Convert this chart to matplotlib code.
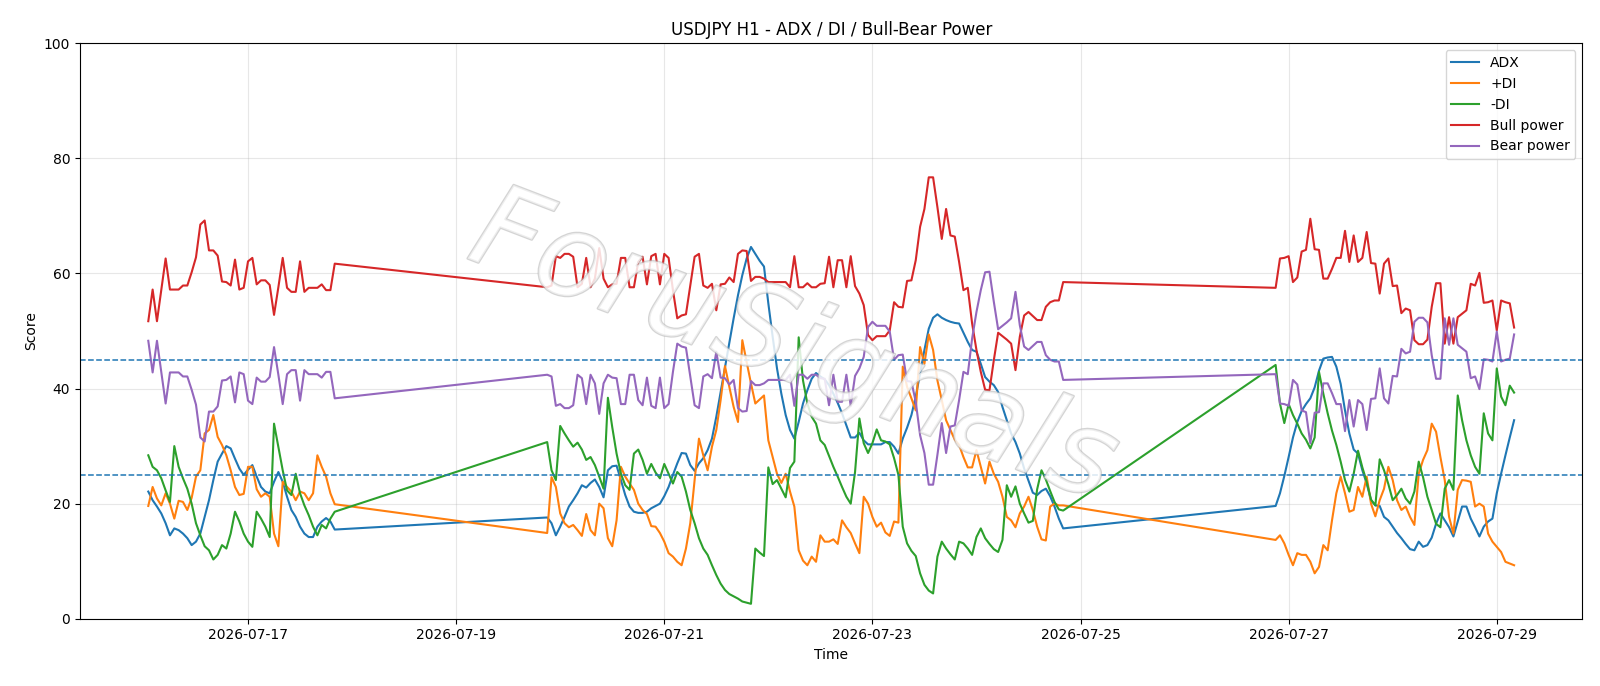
import matplotlib
matplotlib.use("Agg")
import matplotlib.pyplot as plt
import matplotlib.dates as mdates
import matplotlib.patheffects as pe
import pandas as pd

# hourly bars, three trading blocks (weekends missing)
seg1 = pd.date_range("2026-07-16 01:00", "2026-07-17 20:00", freq="h")
seg2 = pd.date_range("2026-07-19 21:00", "2026-07-24 20:00", freq="h")
seg3 = pd.date_range("2026-07-26 21:00", "2026-07-29 04:00", freq="h")
times = seg1.append(seg2).append(seg3)

adx = [
    22.1, 20.6, 19.5, 18.3, 16.6, 14.5, 15.7, 15.4, 14.8, 14.0, 12.8, 13.4, 14.8, 17.7, 20.6, 24.1, 27.3, 28.7, 30.0, 29.6,
    27.8, 26.1, 25.0, 25.9, 26.7, 24.7, 22.9, 22.1, 21.8, 23.8, 25.5, 23.8, 21.2, 18.9, 17.7, 16.0, 14.8, 14.2, 14.2, 16.0,
    16.9, 17.5, 16.9, 15.5,
    17.6, 16.6, 14.5, 16.0, 17.7, 19.5, 20.6, 21.8, 23.2, 22.8, 23.6, 24.2, 22.9, 21.1, 25.8, 26.5, 26.6, 24.1, 21.5, 19.5,
    18.6, 18.4, 18.4, 18.6, 19.2, 19.6, 20.0, 21.3, 22.9, 25.0, 27.0, 28.8, 28.7, 26.7, 25.7, 27.0, 27.9, 29.3, 31.3, 35.1,
    39.4, 43.8, 48.1, 52.2, 56.2, 59.7, 62.6, 64.6, 63.4, 62.2, 61.2, 54.8, 49.0, 43.5, 39.1, 35.4, 32.8, 31.3, 34.2, 37.4,
    39.7, 41.7, 42.7, 42.1, 41.6, 40.6, 39.1, 37.5, 35.7, 33.6, 31.5, 31.5, 32.3, 31.0, 30.3, 30.3, 30.3, 30.3, 30.7,
    30.7, 29.9, 28.7, 31.3, 33.2, 35.4, 38.6, 42.6, 46.7, 50.4, 52.3, 52.9, 52.3, 51.9, 51.6, 51.4, 51.3, 49.7, 48.1, 46.7,
    46.4, 44.3, 42.0, 41.2, 40.6, 39.4, 36.8, 34.5, 32.2, 30.7, 28.7, 26.1, 24.0, 21.9, 21.5, 22.2, 22.6, 21.3, 19.5, 17.4,
    15.7,
    19.6, 21.8, 24.8, 28.1, 31.5, 34.2, 36.1, 37.3, 38.3, 40.2, 43.1, 45.2, 45.4, 45.5, 43.8, 40.8, 36.2, 32.2, 29.4, 28.7,
    25.8, 23.5, 20.6, 19.7, 19.6, 17.7, 17.1, 16.0, 14.9, 14.0, 13.0, 12.1, 11.9, 13.4, 12.5, 12.8, 14.1, 16.5, 18.3, 17.1,
    15.9, 14.3, 16.9, 19.5, 19.5, 17.4, 15.9, 14.3, 16.0, 16.9, 17.4, 21.8, 25.2, 28.4, 31.5, 34.5,
]
plus_di = [
    19.6, 22.9, 20.9, 19.7, 21.8, 20.0, 17.4, 20.5, 20.3, 18.9, 21.0, 24.7, 25.8, 32.2, 32.8, 35.4, 31.6, 30.2, 28.4, 25.8,
    22.9, 21.5, 21.7, 26.4, 26.4, 22.5, 21.2, 21.8, 21.2, 14.8, 12.6, 23.8, 22.9, 22.1, 20.6, 22.1, 21.8, 20.6, 21.8, 28.4,
    26.4, 24.7, 21.8, 19.9,
    14.9, 24.6, 22.9, 18.3, 16.6, 15.9, 16.3, 15.4, 14.4, 18.2, 15.4, 14.5, 20.0, 19.2, 14.0, 12.6, 17.1, 26.4, 24.7, 23.5,
    22.4, 20.0, 18.9, 18.2, 16.1, 16.0, 14.9, 13.4, 11.4, 10.8, 9.9, 9.3, 12.2, 16.6, 24.1, 31.3, 28.4, 25.8, 29.9, 32.8,
    38.0, 43.9, 40.3, 36.8, 34.2, 48.4, 44.6, 40.9, 37.4, 38.1, 38.8, 31.0, 28.1, 25.2, 23.6, 25.2, 22.1, 19.5, 11.9, 10.1,
    9.3, 10.8, 9.9, 14.5, 13.4, 13.4, 13.8, 13.0, 17.1, 15.9, 14.9, 13.1, 11.4, 21.2, 20.0, 17.7, 16.0, 16.7, 15.0,
    14.4, 16.9, 16.7, 43.8, 40.3, 38.3, 36.2, 47.2, 44.3, 49.4, 46.7, 41.4, 38.0, 34.5, 32.8, 31.1, 30.2, 28.1, 26.3, 26.3,
    29.3, 26.4, 23.5, 27.3, 25.2, 23.8, 21.2, 17.7, 17.1, 15.9, 18.3, 19.5, 21.2, 18.9, 16.0, 13.8, 13.6, 19.5, 20.0, 19.7,
    19.7,
    13.7, 14.5, 13.1, 11.1, 9.3, 11.4, 11.1, 11.1, 9.9, 7.9, 9.0, 12.8, 11.9, 17.1, 21.8, 24.7, 21.8, 18.6, 18.9, 22.9,
    21.2, 24.7, 20.0, 17.8, 20.6, 22.6, 26.4, 24.1, 20.6, 18.9, 19.5, 17.7, 16.3, 25.2, 27.6, 29.3, 33.9, 32.5, 28.1, 24.1,
    17.7, 14.8, 22.4, 24.1, 24.0, 23.8, 19.5, 20.0, 19.5, 14.8, 13.4, 12.5, 11.6, 9.9, 9.6, 9.3,
]
minus_di = [
    28.4, 26.4, 25.8, 24.4, 22.3, 20.3, 30.0, 26.4, 24.4, 22.6, 20.0, 16.6, 14.5, 12.6, 11.9, 10.3, 11.1, 12.8, 12.2, 14.8,
    18.6, 16.9, 14.8, 13.4, 12.5, 18.6, 17.4, 16.0, 14.2, 33.9, 29.9, 25.8, 22.3, 21.5, 25.2, 21.8, 19.7, 18.0, 16.0, 14.5,
    16.3, 15.7, 17.4, 18.6,
    30.7, 25.8, 24.1, 33.5, 32.2, 31.0, 29.9, 30.6, 29.4, 27.6, 28.1, 26.7, 24.7, 22.6, 38.4, 33.3, 28.7, 25.2, 23.2, 22.4,
    28.7, 29.4, 27.6, 25.2, 26.9, 25.4, 24.4, 26.9, 25.2, 23.5, 25.5, 24.7, 22.1, 18.9, 16.6, 14.0, 12.2, 11.1, 9.3, 7.6,
    6.1, 5.0, 4.3, 3.9, 3.5, 3.0, 2.8, 2.6, 12.2, 11.5, 10.9, 26.3, 23.4, 24.1, 22.6, 21.1, 26.2, 27.3, 48.9, 41.4,
    37.4, 35.1, 33.9, 31.0, 30.2, 28.3, 26.4, 24.7, 22.9, 21.2, 20.0, 25.5, 34.8, 30.5, 28.8, 30.5, 32.9, 31.0, 30.8,
    30.3, 27.9, 25.0, 16.0, 13.1, 11.8, 10.9, 7.9, 5.9, 4.9, 4.4, 10.8, 13.4, 12.2, 11.2, 10.3, 13.4, 13.1, 12.2, 11.1,
    14.2, 15.7, 14.0, 13.0, 12.1, 11.6, 13.7, 23.2, 21.2, 23.0, 20.0, 18.3, 16.7, 17.0, 22.5, 25.8, 24.2, 22.2, 20.3, 19.0,
    18.8,
    44.1, 37.4, 34.0, 37.3, 35.4, 33.9, 32.2, 31.1, 29.6, 31.5, 42.9, 39.1, 35.7, 32.7, 30.2, 27.3, 24.1, 22.1, 25.2, 29.2,
    26.3, 23.8, 20.7, 19.7, 27.7, 25.8, 23.4, 20.6, 21.5, 22.6, 20.9, 20.0, 22.1, 27.3, 24.6, 21.2, 18.9, 16.5, 15.9, 22.6,
    24.1, 22.4, 38.8, 34.5, 31.0, 28.4, 26.4, 25.2, 35.7, 32.2, 31.0, 43.5, 38.6, 37.1, 40.5, 39.3,
]
bull_power = [
    51.7, 57.2, 51.7, 57.2, 62.6, 57.2, 57.2, 57.2, 57.9, 57.9, 60.2, 62.8, 68.5, 69.2, 64.0, 64.0, 63.1, 58.6, 58.5, 57.9,
    62.4, 57.2, 57.5, 62.1, 62.7, 58.1, 58.8, 58.8, 58.0, 52.8, 57.6, 62.7, 57.5, 56.8, 56.8, 62.1, 56.8, 57.5, 57.5, 57.5,
    58.1, 57.1, 57.1, 61.7,
    57.6, 57.9, 63.0, 62.7, 63.4, 63.4, 62.9, 57.6, 58.2, 62.7, 57.6, 59.1, 64.4, 59.1, 57.6, 58.1, 58.2, 62.7, 62.7, 57.6,
    57.6, 62.0, 62.9, 58.1, 63.0, 63.4, 58.1, 63.4, 62.7, 57.1, 52.2, 52.7, 52.9, 57.9, 62.9, 63.4, 57.9, 57.5, 58.2, 53.6,
    58.1, 58.2, 59.3, 58.5, 63.4, 64.0, 63.9, 58.7, 59.4, 59.4, 59.1, 58.5, 58.5, 58.5, 58.5, 58.5, 57.6, 63.0, 57.6, 57.6,
    58.3, 57.6, 57.6, 58.2, 58.3, 62.9, 57.6, 62.3, 62.3, 57.6, 63.0, 57.8, 56.5, 54.5, 49.3, 48.4, 49.1, 49.1, 49.1,
    50.1, 55.0, 54.2, 54.1, 58.7, 58.8, 62.3, 68.1, 71.2, 76.7, 76.7, 71.5, 66.0, 71.2, 66.6, 66.4, 62.0, 57.1, 57.5, 51.3,
    46.7, 42.9, 39.8, 39.7, 44.9, 49.7, 49.1, 48.5, 47.8, 43.2, 49.0, 52.7, 53.3, 52.6, 51.9, 51.9, 54.2, 55.0, 55.3, 55.3,
    58.5,
    57.5, 62.6, 62.7, 63.0, 58.5, 59.3, 63.8, 64.1, 69.5, 64.2, 64.1, 59.1, 59.1, 60.8, 62.7, 62.7, 67.4, 62.0, 66.6, 62.0,
    62.7, 67.2, 61.8, 61.7, 56.5, 61.7, 62.6, 57.8, 57.9, 53.1, 53.9, 53.6, 48.4, 47.7, 47.7, 48.5, 54.2, 58.3, 58.3, 47.8,
    52.4, 47.8, 52.4, 53.0, 53.6, 58.2, 57.9, 60.1, 54.9, 55.0, 55.3, 50.1, 55.3, 55.0, 54.8, 50.6,
]
bear_power = [
    48.3, 42.8, 48.3, 42.8, 37.4, 42.8, 42.8, 42.8, 42.1, 42.1, 39.8, 37.2, 31.5, 30.8, 36.0, 36.0, 36.9, 41.4, 41.5, 42.1,
    37.6, 42.8, 42.5, 37.9, 37.3, 41.9, 41.2, 41.2, 42.0, 47.2, 42.4, 37.3, 42.5, 43.2, 43.2, 37.9, 43.2, 42.5, 42.5, 42.5,
    41.9, 42.9, 42.9, 38.3,
    42.4, 42.1, 37.0, 37.3, 36.6, 36.6, 37.1, 42.4, 41.8, 37.3, 42.4, 40.9, 35.6, 40.9, 42.4, 41.9, 41.8, 37.3, 37.3, 42.4,
    42.4, 38.0, 37.1, 41.9, 37.0, 36.6, 41.9, 36.6, 37.3, 42.9, 47.8, 47.3, 47.1, 42.1, 37.1, 36.6, 42.1, 42.5, 41.8, 46.4,
    41.9, 41.8, 40.7, 41.5, 36.6, 36.0, 36.1, 41.3, 40.6, 40.6, 40.9, 41.5, 41.5, 41.5, 41.5, 41.5, 42.4, 37.0, 42.4, 42.4,
    41.7, 42.4, 42.4, 41.8, 41.7, 37.1, 42.4, 37.7, 37.7, 42.4, 37.0, 42.2, 43.5, 45.5, 50.7, 51.6, 50.9, 50.9, 50.9,
    49.9, 45.0, 45.8, 45.9, 41.3, 41.2, 37.7, 31.9, 28.8, 23.3, 23.3, 28.5, 34.0, 28.8, 33.4, 33.6, 38.0, 42.9, 42.5, 48.7,
    53.3, 57.1, 60.2, 60.3, 55.1, 50.3, 50.9, 51.5, 52.2, 56.8, 51.0, 47.3, 46.7, 47.4, 48.1, 48.1, 45.8, 45.0, 44.7, 44.7,
    41.5,
    42.5, 37.4, 37.3, 37.0, 41.5, 40.7, 36.2, 35.9, 30.5, 35.8, 35.9, 40.9, 40.9, 39.2, 37.3, 37.3, 32.6, 38.0, 33.4, 38.0,
    37.3, 32.8, 38.2, 38.3, 43.5, 38.3, 37.4, 42.2, 42.1, 46.9, 46.1, 46.4, 51.6, 52.3, 52.3, 51.5, 45.8, 41.7, 41.7, 52.2,
    47.6, 52.2, 47.6, 47.0, 46.4, 41.8, 42.1, 39.9, 45.1, 45.0, 44.7, 49.9, 44.7, 45.0, 45.2, 49.4,
]

df = pd.DataFrame({
    "ADX": adx,
    "+DI": plus_di,
    "-DI": minus_di,
    "Bull power": bull_power,
    "Bear power": bear_power,
}, index=times)

fig, ax = plt.subplots(figsize=(16, 6.86), dpi=100)
for col in df.columns:
    ax.plot(df.index, df[col], linewidth=1.5, label=col)

ax.axhline(25, linestyle="--", linewidth=1.1, color="C0")
ax.axhline(45, linestyle="--", linewidth=1.1, color="C0")

ax.set_ylim(0, 100)
ax.xaxis.set_major_locator(mdates.DayLocator(bymonthday=[17, 19, 21, 23, 25, 27, 29]))
ax.xaxis.set_major_formatter(mdates.DateFormatter("%Y-%m-%d"))
ax.grid(True, alpha=0.3)
ax.set_title("USDJPY H1 - ADX / DI / Bull-Bear Power")
ax.set_xlabel("Time")
ax.set_ylabel("Score")
ax.legend(loc="upper right")

# watermark: thin grey outline, pale translucent fill
ax.text(0.475, 0.47, "ForuSignals", transform=ax.transAxes, fontsize=84, rotation=-21,
        ha="center", va="center", color="white", alpha=0.6, style="italic", zorder=10,
        path_effects=[pe.withStroke(linewidth=1.8, foreground="#b8b8b8")])

fig.subplots_adjust(left=0.050, right=0.989, top=0.937, bottom=0.098)
fig.savefig("out.png", dpi=100)
